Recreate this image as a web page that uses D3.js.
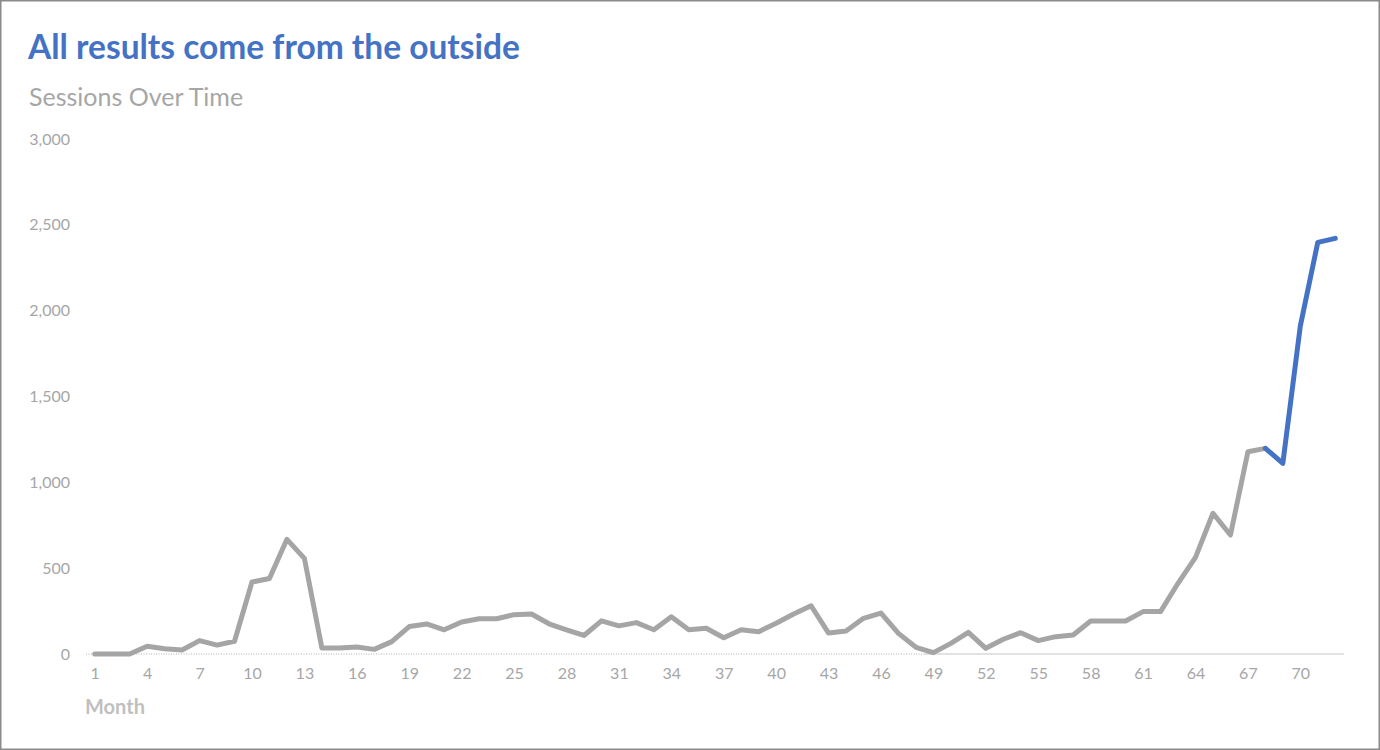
<!DOCTYPE html>
<html>
<head>
<meta charset="utf-8">
<script src="https://cdn.jsdelivr.net/npm/d3@7"></script>
<style>
  html, body { margin: 0; padding: 0; background: #fff; }
  svg { display: block; }
</style>
</head>
<body>
<svg id="chart" width="1380" height="750"></svg>
<script>
const title = "All results come from the outside";
const subtitle = "Sessions Over Time";
const xAxisTitle = "Month";
const months = d3.range(1, 73);
const sessions = [
  0, 0, 0, 45, 31, 23, 78, 52, 74, 419,
  440, 668, 557, 35, 35, 41, 27, 72, 160, 175,
  141, 186, 205, 205, 229, 233, 176, 141, 108, 193,
  164, 183, 141, 217, 141, 150, 95, 141, 130, 179,
  233, 281, 122, 134, 208, 238, 120, 39, 8, 62,
  126, 33, 86, 124, 78, 101, 111, 192, 192, 192,
  247, 247, 412, 563, 820, 693, 1178, 1198, 1111, 1911,
  2398, 2421
];
const highlightStart = 68;   // month where the blue segment begins
const yTicks = [0, 500, 1000, 1500, 2000, 2500, 3000];
const xTickMonths = d3.range(1, 73, 3);
const dottedUntil = 48.5;    // dotted part of the baseline ends between months 48 and 49

const svg = d3.select("#chart");
const W = 1380, H = 750;
const FONT = "Lato, 'Open Sans', sans-serif";

svg.append("rect").attr("x", 0.75).attr("y", 0.75).attr("width", W - 1.5).attr("height", H - 1.5)
  .attr("fill", "#fff").attr("stroke", "#8a8a8a").attr("stroke-width", 1.5);

const x = d3.scalePoint().domain(months).range([86, 1344]).padding(0.5);
const y = d3.scaleLinear().domain([0, 3000]).range([654, 139]);

svg.append("text").attr("x", 28).attr("y", 59)
  .attr("font-family", FONT).attr("font-weight", 700)
  .attr("font-size", 33.5).attr("fill", "#4472C4").text(title);

svg.append("text").attr("x", 29).attr("y", 106)
  .attr("font-family", FONT)
  .attr("font-size", 25).attr("fill", "#A6A6A6").text(subtitle);

// y axis labels
const yAxis = d3.axisLeft(y).tickValues(yTicks).tickSize(0).tickPadding(0)
  .tickFormat(d3.format(","));
const gy = svg.append("g").attr("transform", "translate(70,0)").call(yAxis);
gy.select(".domain").remove();
gy.selectAll("text").attr("font-family", FONT)
  .attr("font-size", 16).attr("fill", "#A6A6A6");

// x axis labels
const xAxis = d3.axisBottom(x).tickValues(xTickMonths).tickSize(0).tickPadding(0);
const gx = svg.append("g").attr("transform", "translate(0,668)").call(xAxis);
gx.select(".domain").remove();
gx.selectAll("text").attr("font-family", FONT)
  .attr("font-size", 16).attr("fill", "#A6A6A6");

// baseline
const step = x.step();
const xLeft = x.range()[0];
const xRight = x.range()[1];
const xSplit = x(48) + step * (dottedUntil - 48);
svg.append("line").attr("x1", xLeft).attr("x2", xSplit).attr("y1", y(0)).attr("y2", y(0))
  .attr("stroke", "#b0b0b0").attr("stroke-width", 1).attr("stroke-dasharray", "1,1.5");
svg.append("line").attr("x1", xSplit).attr("x2", xRight).attr("y1", y(0)).attr("y2", y(0))
  .attr("stroke", "#d9d9d9").attr("stroke-width", 1.5);

svg.append("text").attr("x", 85).attr("y", 714)
  .attr("font-family", FONT).attr("font-weight", 700)
  .attr("font-size", 20).attr("fill", "#BFBFBF").text(xAxisTitle);

const data = months.map((m, i) => ({ m, v: sessions[i] }));
const line = d3.line().x(d => x(d.m)).y(d => y(d.v));

svg.append("path").datum(data.filter(d => d.m <= highlightStart))
  .attr("d", line).attr("fill", "none").attr("stroke", "#A5A5A5")
  .attr("stroke-width", 5).attr("stroke-linejoin", "round").attr("stroke-linecap", "round");

svg.append("path").datum(data.filter(d => d.m >= highlightStart))
  .attr("d", line).attr("fill", "none").attr("stroke", "#4472C4")
  .attr("stroke-width", 5).attr("stroke-linejoin", "round").attr("stroke-linecap", "round");
</script>
</body>
</html>
